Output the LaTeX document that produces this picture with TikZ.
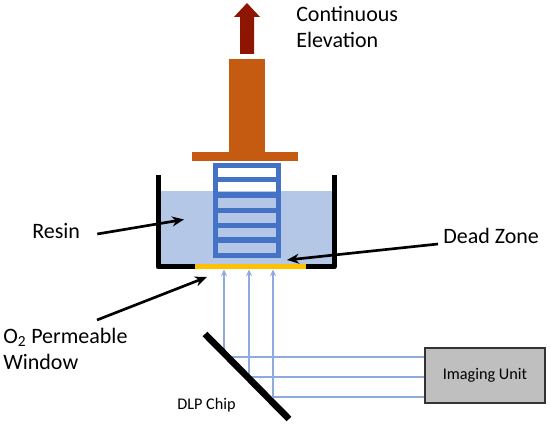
\documentclass[tikz,border=0pt]{standalone}
\usepackage{fontspec}
\setmainfont{Carlito}
\usetikzlibrary{arrows.meta,positioning,calc}
\definecolor{lift}{HTML}{C55A11}
\definecolor{liftd}{HTML}{8E1600}
\definecolor{part}{HTML}{4472C4}
\definecolor{resin}{HTML}{B4C7E7}
\definecolor{beam}{HTML}{8FAADC}
\definecolor{window}{HTML}{FFC000}
\definecolor{unit}{HTML}{BFBFBF}
\begin{document}
\begin{tikzpicture}[x=0.75pt,y=-0.75pt,
      lbl/.style={inner sep=0pt, align=left, font=\fontsize{16.5}{19.5}\selectfont, anchor=west},
      small/.style={inner sep=0pt, font=\fontsize{12.2}{14}\selectfont},
      leader/.style={-{Stealth[length=9pt,width=7.5pt]}, line width=2pt, color=black},
      ray/.style={line width=1.5pt, color=beam},
      rayup/.style={ray, -{Stealth[length=5pt,width=4.5pt]}},
      wall/.style={line width=3.75pt, color=black, line join=round},
      grid/.style={line width=4pt, color=part}]
    \useasboundingbox (0,0) rectangle (550,427);
    % resin and tank
    \fill[resin] (158,191) rectangle (334,267);
    \draw[wall] (158,175) -- (158,267) -- (334,267) -- (334,175);
    \fill[window] (195,264.5) rectangle (306,269.5);
    % build head
    \fill[lift] (229,59) rectangle (265,153);
    \fill[lift] (192,152) rectangle (298,161);
    \fill[liftd] (240,54) -- (240,17) -- (234,17) -- (247,3) -- (260,17) -- (254,17) -- (254,54) -- cycle;
    % part
    \draw[grid] (215.5,165.5) rectangle (278.5,255.5);
    \foreach \y in {179.5,195,210.5,225.5,240}
      \draw[grid] (215.5,\y) -- (278.5,\y);
    % optics
    \node[draw=black!80, fill=unit, line width=1.2pt, minimum width=90pt, minimum height=41.25pt, inner sep=0pt, font=\fontsize{12.2}{14}\selectfont] (imaging) at (485,375.5) {\raisebox{-1.2pt}{Imaging Unit}};
    \coordinate (m1) at (224,357);
    \coordinate (m2) at (249,377);
    \coordinate (m3) at (273,397);
    \coordinate (w1) at (224,269.5);
    \coordinate (w2) at (249,269.5);
    \coordinate (w3) at (273,269.5);
    \draw[ray] (m1) -- (imaging.west |- m1);
    \draw[ray] (m2) -- (imaging.west |- m2);
    \draw[ray] (m3) -- (imaging.west |- m3);
    \draw[rayup] (m1) -- (w1);
    \draw[rayup] (m2) -- (w2);
    \draw[rayup] (m3) -- (w3);
    \draw[line width=5pt, color=black] (205,334) -- (289,419);
    % labels
    \node[lbl] (elev) at (296,27) {Continuous\\Elevation};
    \node[lbl] (resinl) at (32,231) {Resin};
    \node[lbl] (dead) at (443,236) {Dead Zone};
    \node[lbl] (perm) at (3,348.5) {O\textsubscript{2} Permeable\\Window};
    \node[small] (chip) at (206.5,405) {DLP Chip};
    \coordinate (resintip) at (184,219.5);
    \coordinate (deadtip) at (287,260);
    \coordinate (permtip) at (207,277);
    \coordinate (permstart) at (97,320);
    \draw[leader] ($(resinl.east)+(17,3)$) -- (resintip);
    \draw[leader] ($(dead.west)+(-5,8)$) -- (deadtip);
    \draw[leader] (permstart) -- (permtip);
  \end{tikzpicture}
\end{document}
